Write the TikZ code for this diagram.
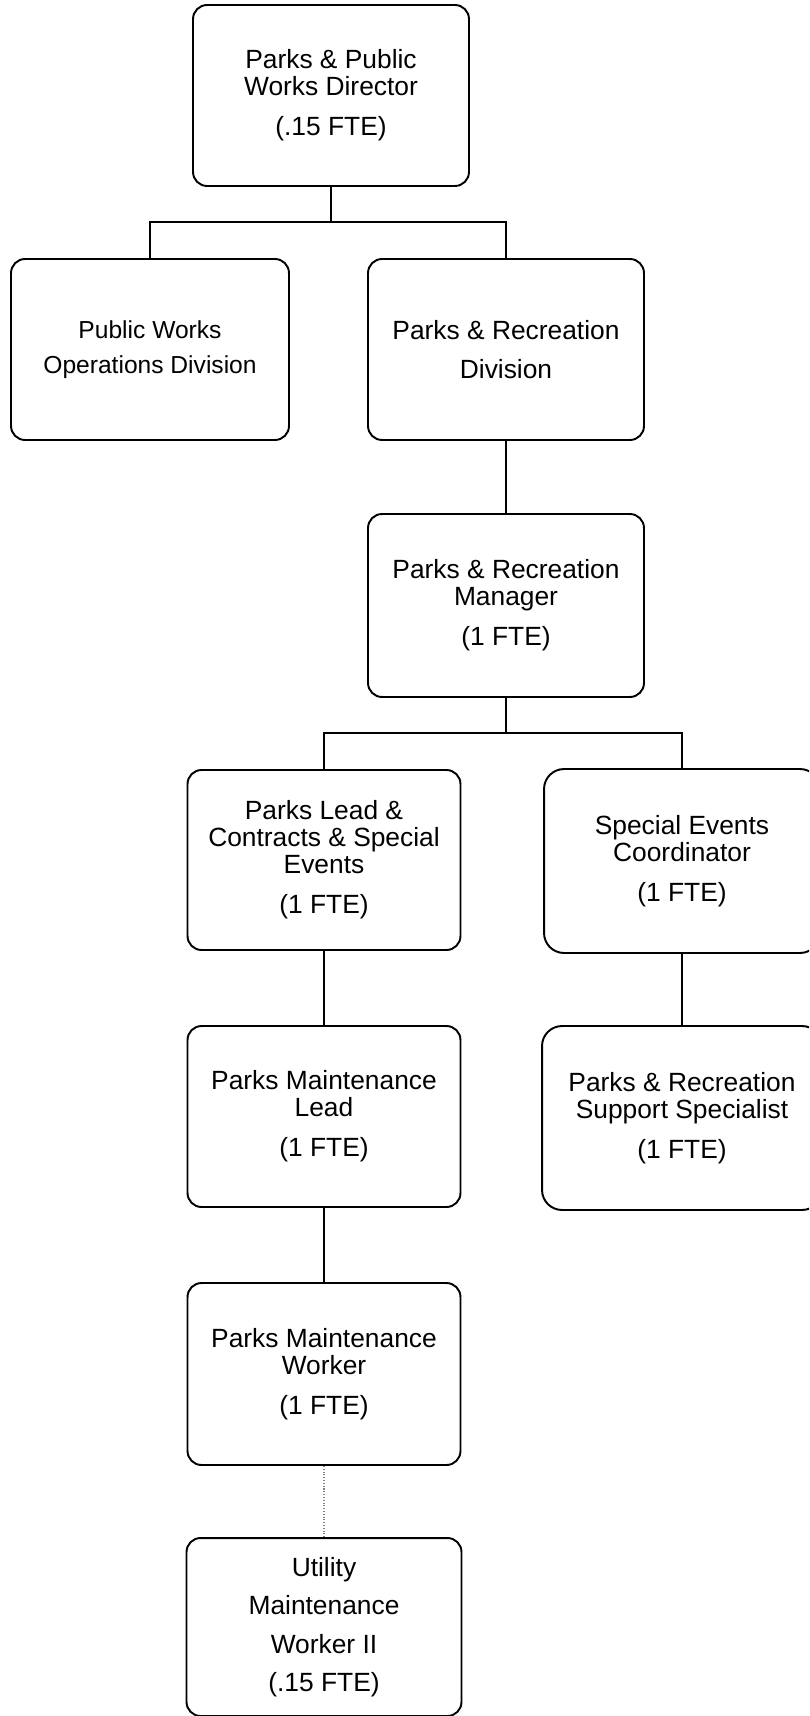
\documentclass[tikz,border=0pt]{standalone}
\usepackage{fontspec}
\setmainfont{Liberation Sans}
\usepackage{tikz}

\newcommand{\postfont}{\fontsize{15}{15.4}\selectfont}

\begin{document}
\begin{tikzpicture}[x=0.02cm, y=-0.02cm]
    \tikzstyle{post}=[draw, line width=1.1pt, rounded corners=0.28cm, minimum width=5.5cm, minimum height=3.62cm, align=center, inner sep=0pt, font=\postfont]
    \tikzstyle{round post}=[post, rounded corners=0.4cm]
    \tikzstyle{link}=[line width=0.85pt]

    \useasboundingbox (0,0) rectangle (809,1716);
    \clip (0,0) rectangle (809,1716);

    % Director
	\node[post, minimum width=5.52cm] (dir) at (331, 95.5) {Parks \& Public\\Works Director\\[7.4pt](.15 FTE)};

	% Divisions
	\node[post, minimum width=5.56cm, font=\fontsize{14}{15.4}\selectfont] (pwo) at (150, 349.5) {Public Works\\[4.5pt]Operations Division};
	\node[post, minimum width=5.52cm] (prd) at (506, 349.5) {Parks \& Recreation\\[6.8pt]Division};

	% Manager
	\node[post, minimum width=5.52cm, minimum height=3.66cm] (mgr) at (506, 605.5) {Parks \& Recreation\\Manager\\[7.4pt](1 FTE)};

	% Staff
	\node[post, minimum width=5.46cm, minimum height=3.6cm] (lead) at (324, 860) {Parks Lead \&\\Contracts \& Special\\Events\\[7.4pt](1 FTE)};
	\node[round post, minimum width=5.52cm, minimum height=3.68cm] (sec) at (682, 861) {Special Events\\Coordinator\\[7.4pt](1 FTE)};
	\node[post, minimum width=5.46cm] (pml) at (324, 1116.5) {Parks Maintenance\\Lead\\[7.4pt](1 FTE)};
	\node[round post, minimum width=5.6cm, minimum height=3.68cm] (sps) at (682, 1118) {Parks \& Recreation\\Support Specialist\\[7.4pt](1 FTE)};
	\node[post, minimum width=5.46cm, minimum height=3.64cm] (pmw) at (324, 1374) {Parks Maintenance\\Worker\\[7.4pt](1 FTE)};
	\node[post, minimum width=5.5cm, minimum height=3.56cm] (umw) at (324, 1627) {Utility\\[6.5pt]Maintenance\\[6.5pt]Worker II\\[6.5pt](.15 FTE)};

	% Junctions
	\coordinate (j1) at (331, 222);
	\coordinate (j2) at (506, 733);

    % Connections
	\draw[link] (dir.south) -- (j1);
	\draw[link] (pwo.north) |- (j1) -| (prd.north);
	\draw[link] (prd.south) -- (mgr.north);
	\draw[link] (mgr.south) -- (j2);
	\draw[link] (lead.north) |- (j2) -| (sec.north);
	\draw[link] (lead.south) -- (pml.north);
	\draw[link] (sec.south) -- (sps.north);
	\draw[link] (pml.south) -- (pmw.north);
	\draw[gray, line width=0.6pt, densely dotted] (pmw.south) -- (umw.north);
\end{tikzpicture}
\end{document}
